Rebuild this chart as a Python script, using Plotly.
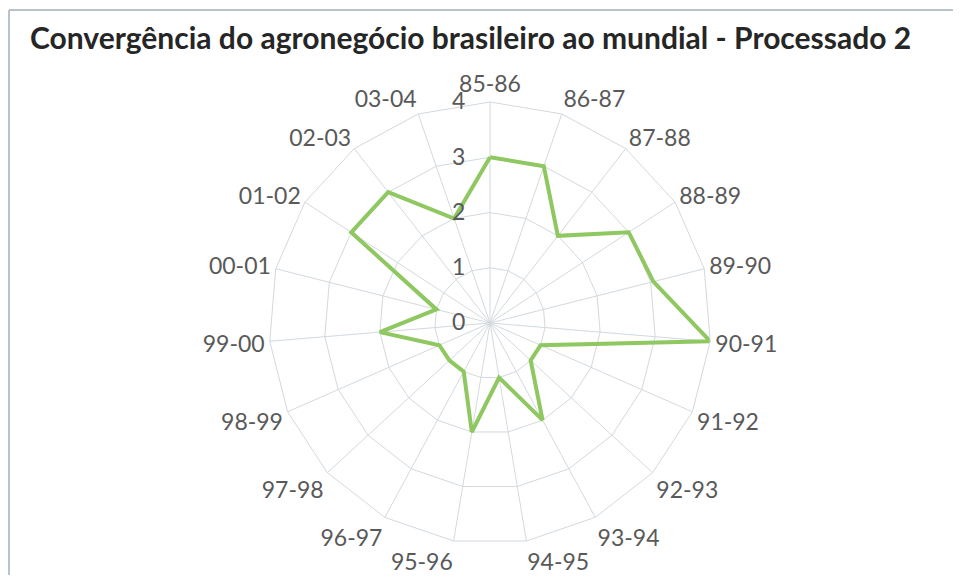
import plotly.graph_objects as go

categories = ["85-86", "86-87", "87-88", "88-89", "89-90", "90-91", "91-92", "92-93",
              "93-94", "94-95", "95-96", "96-97", "97-98", "98-99", "99-00", "00-01",
              "01-02", "02-03", "03-04"]
values = [3, 3, 2, 3, 3.05, 4, 1, 1, 2, 1, 2, 1, 1, 1, 2, 1, 3, 3, 2]
radial_ticks = [0, 1, 2, 3, 4]
title_text = "Convergência do agronegócio brasileiro ao mundial - Processado 2"

# the page body has an 8px margin, so the figure is offset by 8px
OFF = 8
W, H = 961 - OFF, 583 - 2 * OFF
cx, cy, R = 490 - OFF, 323 - OFF, 221

fig = go.Figure()
fig.add_trace(go.Scatterpolar(
    r=values + values[:1],
    theta=categories + categories[:1],
    mode="lines",
    line=dict(color="#8fc760", width=4),
    showlegend=False,
    hoverinfo="skip",
))

grid = "#d3d9de"
border = "#b9c3cb"
fig.update_layout(
    width=W, height=H,
    margin=dict(l=0, r=0, t=0, b=0),
    paper_bgcolor="white",
    plot_bgcolor="white",
    polar=dict(
        domain=dict(x=[(cx - R) / W, (cx + R) / W], y=[(H - cy - R) / H, (H - cy + R) / H]),
        bgcolor="white",
        gridshape="linear",
        angularaxis=dict(
            type="category",
            direction="clockwise", rotation=90,
            categoryorder="array", categoryarray=categories,
            gridcolor=grid, gridwidth=1,
            linecolor=grid, linewidth=1, showline=True,
            ticks="",
            tickfont=dict(family="Lato", size=23, color="#595959"),
        ),
        radialaxis=dict(
            range=[0, 4], tickvals=radial_ticks, angle=90, side="counterclockwise",
            showline=False, ticks="outside", ticklen=16, tickcolor="rgba(0,0,0,0)",
            gridcolor=grid, gridwidth=1,
            tickfont=dict(family="Lato", size=23, color="#595959"),
            tickangle=90,
        ),
    ),
    shapes=[
        dict(type="line", xref="paper", yref="paper", x0=1 / W, x1=1 / W, y0=0, y1=1 - 2 / H,
             line=dict(color=border, width=2), layer="below"),
        dict(type="line", xref="paper", yref="paper", x0=1 / W, x1=1, y0=1 - 2 / H, y1=1 - 2 / H,
             line=dict(color=border, width=2), layer="below"),
    ],
    annotations=[dict(text="<b>" + title_text + "</b>", xref="paper", yref="paper",
                      x=20 / W, y=1 - 29 / H, xanchor="left", yanchor="middle", showarrow=False,
                      font=dict(family="Lato", size=30, color="#262626"))],
)

fig.write_html("out.html", config={"displayModeBar": False})
